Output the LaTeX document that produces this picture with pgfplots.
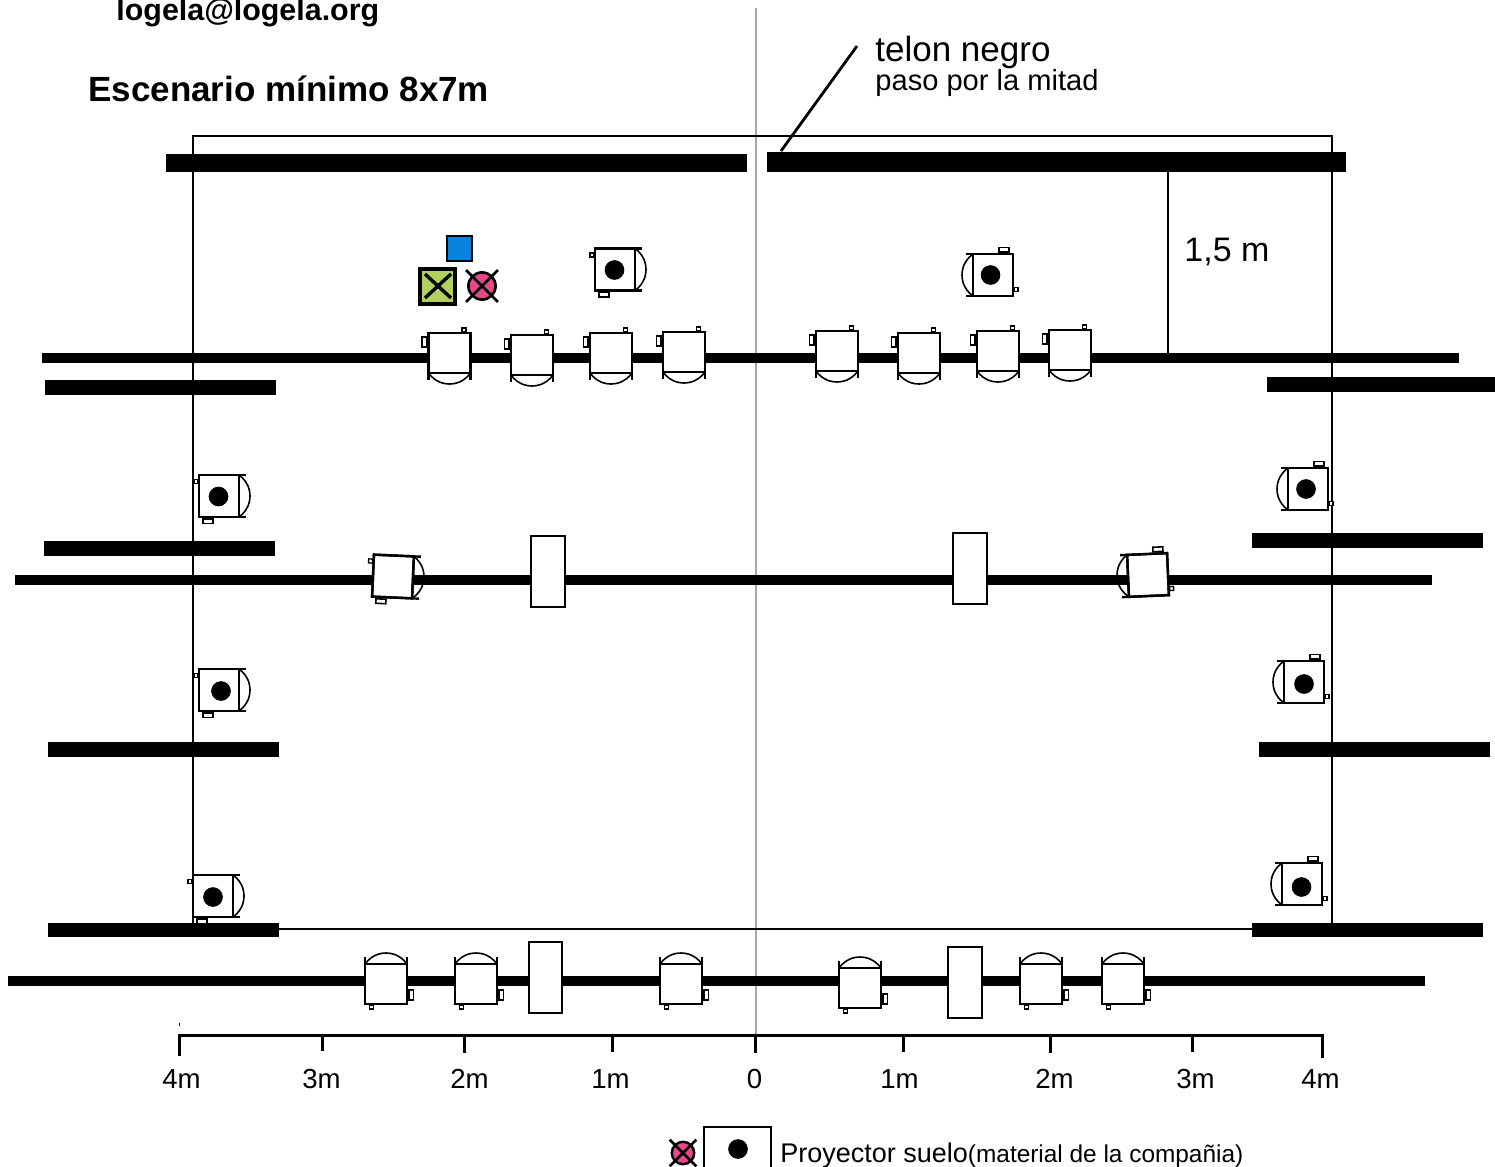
\documentclass[border=0pt]{standalone}
\usepackage{pgfplots}
\usepackage{pgfplotstable}
\usepackage{fontspec}
\setmainfont{Liberation Sans}
\pgfplotsset{compat=1.18}

\definecolor{pinkx}{HTML}{E8478B}
\definecolor{greenx}{HTML}{B3CF5F}
\definecolor{bluex}{HTML}{0A82DC}
\definecolor{centerg}{HTML}{A6A6A6}

% fixture outline, pointing down, relative to the centre of the body
\pgfplotstableread{
x y
-21 -20
21 -20
21 20
-21 20
}\bodypts
\pgfplotstableread{
x y
-21 27
-21 -20
21 -20
21 27
}\flappts
\pgfplotstableread{
x y
-21 20
21 20
}\lenspts
\pgfplotstableread{
x y
-21 20
-18 23.5
-15 26.1
-10 29
-5 30.5
0 31
5 30.5
10 29
15 26.1
18 23.5
21 20
}\arcpts
\pgfplotstableread{
x y
12.5 -25
16.5 -25
16.5 -21
12.5 -21
}\tinypts
\pgfplotstableread{
x y
-27.5 -16
-23 -16
-23 -6
-27.5 -6
}\sidepts

\newcommand\fixpart[5][]{%
  \addplot[#1] table[
    x expr={#3+cos(#5)*\thisrow{x}-sin(#5)*\thisrow{y}},
    y expr={#4+sin(#5)*\thisrow{x}+cos(#5)*\thisrow{y}}] {#2}%
}
% \fixture{cx}{cy}{angle}
\newcommand\fixture[3]{%
  \fixpart[fill=white,draw=black,line width=1.2pt]{\bodypts}{#1}{#2}{#3} --cycle;
  \fixpart[draw=black,line width=1.2pt]{\flappts}{#1}{#2}{#3};
  \fixpart[draw=black,line width=1.2pt]{\lenspts}{#1}{#2}{#3};
  \fixpart[draw=black,line width=0.8pt,smooth]{\arcpts}{#1}{#2}{#3};
  \fixpart[fill=white,draw=black,line width=0.7pt]{\tinypts}{#1}{#2}{#3} --cycle;
  \fixpart[fill=white,draw=black,line width=0.8pt]{\sidepts}{#1}{#2}{#3} --cycle;
}
% \blackbar{x0}{x1}{y0}{y1}
\newcommand\blackbar[4]{%
  \addplot[fill=black,draw=none] coordinates {(#1,#3) (#2,#3) (#2,#4) (#1,#4)} --cycle;
}
\newcommand\whitebox[4]{%
  \addplot[fill=white,draw=black,line width=1.4pt] coordinates {(#1,#3) (#2,#3) (#2,#4) (#1,#4)} --cycle;
}
\newcommand\txt[4][base west]{%
  \node[anchor=#1,inner sep=0pt] at (axis cs:#2,#3) {#4};
}
\newcommand\fs[1]{\fontsize{#1}{#1}\selectfont}

\begin{document}
\begin{tikzpicture}
\path[use as bounding box,clip] (0,0) rectangle (747.5pt,583.5pt);
\begin{axis}[
  at={(0,0)}, anchor=south west,
  scale only axis,
  width=747.5pt, height=583.5pt,
  xmin=0, xmax=1495, ymin=0, ymax=1167,
  y dir=reverse,
  hide axis,
  clip=false,
]
% centre line, under everything
\addplot[draw=centerg,line width=1.3pt] coordinates {(756,8) (756,1035)};

% stage outline
\addplot[draw=black,line width=1.4pt] coordinates {(193,136) (1332,136) (1332,929) (193,929)} --cycle;

% drapes and bars
\blackbar{166}{747}{154}{172}
\blackbar{767}{1346}{152}{172}
\blackbar{42}{1459}{353.3}{363.3}
\blackbar{15}{1432}{575}{585}
\blackbar{8}{1425}{975.7}{985.5}
\blackbar{45}{276}{380}{395}
\blackbar{1267}{1495}{377}{392}
\blackbar{44}{275}{541}{556}
\blackbar{1252}{1483}{533}{548}
\blackbar{48}{279}{742}{757}
\blackbar{1259}{1490}{742}{757}
\blackbar{48}{279}{923}{937}
\blackbar{1252}{1483}{923}{937}

% telon and 1,5 m marks
\addplot[draw=black,line width=1.4pt] coordinates {(857,46) (781,151)};
\addplot[draw=black,line width=1.4pt] coordinates {(1168,172) (1168,353)};

% tall boxes on the bars
\whitebox{531}{565}{536}{607}
\whitebox{953}{987}{533}{604}
\whitebox{529}{562}{942}{1013}
\whitebox{948}{982}{947}{1018}

% fixtures
\fixture{615}{269.5}{-90}
\fixture{993}{275}{90}
\fixture{449.5}{353}{0}
\fixture{532}{355}{0}
\fixture{611}{353}{0}
\fixture{684}{352}{0}
\fixture{837}{351}{0}
\fixture{919}{353}{0}
\fixture{998}{351}{0}
\fixture{1070}{350}{0}
\fixture{219}{496}{-90}
\fixture{219}{690}{-90}
\fixture{213}{896}{-90}
\fixture{1308}{489}{90}
\fixture{1304}{682}{90}
\fixture{1302}{884}{90}
\fixture{393}{576.5}{-87.5}
\fixture{1148}{575}{87.5}
\fixture{386}{984}{180}
\fixture{476}{984}{180}
\fixture{681}{984}{180}
\fixture{860}{988}{180}
\fixture{1041}{984}{180}
\fixture{1123}{984}{180}

% lamp dots
\addplot[only marks,mark=*,mark size=4.7pt,mark options={fill=black,draw=none}] coordinates {
  (614.5,270) (990.5,275) (218.5,496.5) (221,691) (213,897)
  (1306,489) (1304,684) (1301.5,887) (738,1149)
};

% small symbols upstage
\addplot[fill=bluex,draw=black,line width=1.3pt] coordinates {(447,236) (472,236) (472,261) (447,261)} --cycle;
\addplot[fill=greenx,draw=black,line width=2pt] coordinates {(420,269) (455,269) (455,304) (420,304)} --cycle;
\addplot[draw=black,line width=1.7pt] coordinates {(425,274) (451,298)};
\addplot[draw=black,line width=1.7pt] coordinates {(451,274) (425,298)};

% crossed pink circles
\addplot[only marks,mark=*,mark size=6.8pt,mark options={fill=pinkx,draw=black,line width=1.3pt}] coordinates {(482,286)};
\addplot[only marks,mark=x,mark size=11.3pt,mark options={draw=black,line width=1.4pt}] coordinates {(482,286)};
\addplot[only marks,mark=*,mark size=5.6pt,mark options={fill=pinkx,draw=black,line width=1.2pt}] coordinates {(683,1153)};
\addplot[only marks,mark=x,mark size=9.4pt,mark options={draw=black,line width=1.4pt}] coordinates {(683,1153)};

% legend box
\addplot[draw=black,line width=1.1pt] coordinates {(704,1175) (704,1127) (771,1127) (771,1175)};

% scale
\addplot[draw=black,line width=1.5pt] coordinates {(179,1056) (179,1035) (1322,1035) (1322,1058)};
\addplot[draw=black,line width=1.5pt] coordinates {(322,1035) (322,1051)};
\addplot[draw=black,line width=1.5pt] coordinates {(464,1035) (464,1053)};
\addplot[draw=black,line width=1.5pt] coordinates {(612,1035) (612,1052)};
\addplot[draw=black,line width=1.5pt] coordinates {(755,1035) (755,1053)};
\addplot[draw=black,line width=1.5pt] coordinates {(903,1035) (903,1052)};
\addplot[draw=black,line width=1.5pt] coordinates {(1050,1035) (1050,1053)};
\addplot[draw=black,line width=1.5pt] coordinates {(1192,1035) (1192,1052)};
\addplot[draw=black,line width=0.4pt] coordinates {(179,1023) (179,1026)};

% texts
\txt{116}{20}{\fs{15.2}\bfseries logela@logela.org}
\txt{88}{101}{\fs{17.5}\bfseries Escenario mínimo 8x7m}
\txt{875}{61.5}{\fs{17.5}telon negro}
\txt{875}{90.5}{\fs{14.55}paso por la mitad}
\txt{1184}{261}{\fs{17}1,5 m}
\txt[base]{181.5}{1088}{\fs{13.8}4m}
\txt[base]{321.5}{1088}{\fs{13.8}3m}
\txt[base]{469.5}{1088}{\fs{13.8}2m}
\txt[base]{610.5}{1088}{\fs{13.8}1m}
\txt[base]{754.5}{1088}{\fs{13.8}0}
\txt[base]{899.5}{1088}{\fs{13.8}1m}
\txt[base]{1054.5}{1088}{\fs{13.8}2m}
\txt[base]{1195.5}{1088}{\fs{13.8}3m}
\txt[base]{1320.5}{1088}{\fs{13.8}4m}
\txt{780}{1162}{\fs{13.5}Proyector suelo\fs{12.2}(material de la compañia)}
\end{axis}
\end{tikzpicture}
\end{document}
